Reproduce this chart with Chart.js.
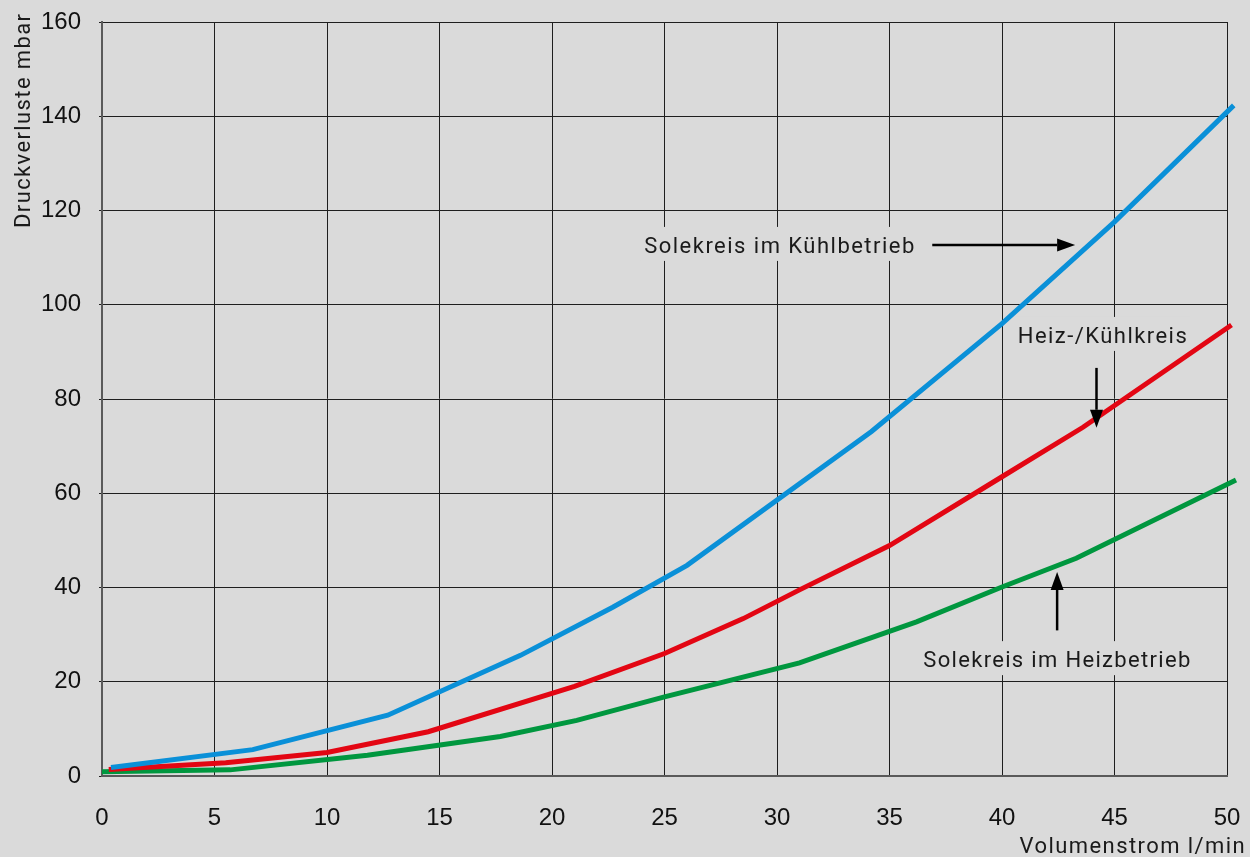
<!DOCTYPE html>
<html>
<head>
<meta charset="utf-8">
<script src="https://cdn.jsdelivr.net/npm/chart.js@4.4.1/dist/chart.umd.min.js"></script>
<style>
  html, body { margin: 0; padding: 0; background: #dadada; }
  canvas { display: block; }
</style>
</head>
<body>
<canvas id="chart" width="1250" height="857"></canvas>
<script>
// values (x = Volumenstrom l/min, y = Druckverluste mbar)
var kuehlX = [0.4, 6.7, 12.7, 18.6, 22.7, 26.0, 34.2, 40.0, 45.0, 50.3];
var kuehlY = [1.8, 5.6, 12.9, 25.6, 35.8, 44.7, 73.1, 96.0, 117.6, 142.3];

var heizKuehlX = [0.3, 5.5, 10.0, 14.5, 21.0, 25.0, 28.5, 31.0, 35.0, 40.0, 43.6, 50.2];
var heizKuehlY = [1.4, 2.8, 5.0, 9.4, 19.0, 26.0, 33.4, 39.5, 48.9, 63.5, 74.0, 95.7];

var heizX = [0, 5.7, 11.8, 17.7, 21.1, 25.0, 31.0, 36.2, 40.0, 43.3, 50.4];
var heizY = [0.9, 1.3, 4.4, 8.4, 11.8, 16.8, 24.0, 32.7, 40.1, 46.2, 62.8];

var xTicks = [0, 5, 10, 15, 20, 25, 30, 35, 40, 45, 50];
var yTicks = [0, 20, 40, 60, 80, 100, 120, 140, 160];

function pts(xs, ys) {
  return xs.map(function(x, i) { return { x: x, y: ys[i] }; });
}

var bg = '#dadada';
var labelFont = '22px Roboto';

// set letter spacing so a text gets a given width
function spaced(ctx, text, width) {
  ctx.letterSpacing = '0px';
  var w0 = ctx.measureText(text).width;
  ctx.letterSpacing = ((width - w0) / (text.length - 1)) + 'px';
}

// text labels with letter spacing + arrows
var notes = {
  id: 'notes',
  beforeDatasetsDraw: function(chart) {
    var ctx = chart.ctx;
    var xs = chart.scales.x, ys = chart.scales.y;
    var texts = [
      { t: 'Solekreis im Kühlbetrieb', x: 24.1, y: 111, w: 270 },
      { t: 'Heiz-/Kühlkreis', x: 40.7, y: 91.9, w: 169 },
      { t: 'Solekreis im Heizbetrieb', x: 36.5, y: 23.1, w: 267 }
    ];
    ctx.save();
    ctx.font = labelFont;
    ctx.textBaseline = 'alphabetic';
    texts.forEach(function(n) {
      var px = xs.getPixelForValue(n.x), py = ys.getPixelForValue(n.y);
      spaced(ctx, n.t, n.w);
      ctx.fillStyle = bg;
      ctx.fillRect(px - 4, py - 26, n.w + 8, 34);
      ctx.fillStyle = '#1a1a1a';
      ctx.fillText(n.t, px, py);
    });
    ctx.restore();
  },
  afterDatasetsDraw: function(chart) {
    var ctx = chart.ctx;
    var xs = chart.scales.x, ys = chart.scales.y;
    var arrows = [
      [36.9, 112.7, 43.25, 112.7],
      [44.2, 86.6, 44.2, 73.9],
      [42.45, 30.9, 42.45, 43.3]
    ];
    ctx.save();
    ctx.strokeStyle = '#000';
    ctx.fillStyle = '#000';
    ctx.lineWidth = 2.5;
    arrows.forEach(function(a) {
      var x1 = xs.getPixelForValue(a[0]), y1 = ys.getPixelForValue(a[1]);
      var x2 = xs.getPixelForValue(a[2]), y2 = ys.getPixelForValue(a[3]);
      var ang = Math.atan2(y2 - y1, x2 - x1);
      var hl = 18, hw = 6.5;
      var bx = x2 - hl * Math.cos(ang), by = y2 - hl * Math.sin(ang);
      ctx.beginPath();
      ctx.moveTo(x1, y1);
      ctx.lineTo(bx, by);
      ctx.stroke();
      ctx.beginPath();
      ctx.moveTo(x2, y2);
      ctx.lineTo(bx + hw * Math.sin(ang), by - hw * Math.cos(ang));
      ctx.lineTo(bx - hw * Math.sin(ang), by + hw * Math.cos(ang));
      ctx.closePath();
      ctx.fill();
    });

    // axis titles
    ctx.font = labelFont;
    ctx.fillStyle = '#1a1a1a';
    ctx.textAlign = 'right';
    ctx.textBaseline = 'alphabetic';
    spaced(ctx, 'Volumenstrom l/min', 225);
    ctx.fillText('Volumenstrom l/min', 1246, 853);
    spaced(ctx, 'Druckverluste mbar', 214);
    ctx.translate(30, 228);
    ctx.rotate(-Math.PI / 2);
    ctx.textAlign = 'left';
    ctx.fillText('Druckverluste mbar', 0, 0);
    ctx.restore();
  }
};

var ctx = document.getElementById('chart').getContext('2d');
var myChart = new Chart(ctx, {
  type: 'scatter',
  data: {
    datasets: [
      { label: 'Solekreis im Kühlbetrieb', data: pts(kuehlX, kuehlY), borderColor: '#0a90d8' },
      { label: 'Heiz-/Kühlkreis', data: pts(heizKuehlX, heizKuehlY), borderColor: '#e30613' },
      { label: 'Solekreis im Heizbetrieb', data: pts(heizX, heizY), borderColor: '#00973f' }
    ].map(function(d) {
      d.showLine = true;
      d.pointRadius = 0;
      d.borderWidth = 5;
      d.tension = 0;
      d.clip = 12;
      return d;
    })
  },
  options: {
    responsive: false,
    animation: false,
    layout: { autoPadding: false, padding: { left: 0, top: 22, right: 23, bottom: 0 } },
    plugins: { legend: { display: false }, tooltip: { enabled: false } },
    scales: {
      x: {
        type: 'linear',
        min: 0, max: 50,
        afterBuildTicks: function(s) { s.ticks = xTicks.map(function(v) { return { value: v }; }); },
        afterFit: function(s) { s.height = 81; s.paddingLeft = 0; s.paddingRight = 0; },
        ticks: { font: { family: 'Liberation Sans', size: 24 }, color: '#111', padding: 28 },
        grid: { color: '#1e1e1e', lineWidth: 1, drawTicks: false },
        border: { color: '#5a5a5a', width: 2 }
      },
      y: {
        min: 0, max: 160,
        afterBuildTicks: function(s) { s.ticks = yTicks.map(function(v) { return { value: v }; }); },
        afterFit: function(s) { s.width = 102; s.paddingTop = 0; s.paddingBottom = 0; },
        ticks: { font: { family: 'Liberation Sans', size: 24 }, color: '#111', padding: 18 },
        grid: { color: '#1e1e1e', lineWidth: 1, tickLength: 3 },
        border: { color: '#5a5a5a', width: 2 }
      }
    }
  },
  plugins: [notes]
});
</script>
</body>
</html>
